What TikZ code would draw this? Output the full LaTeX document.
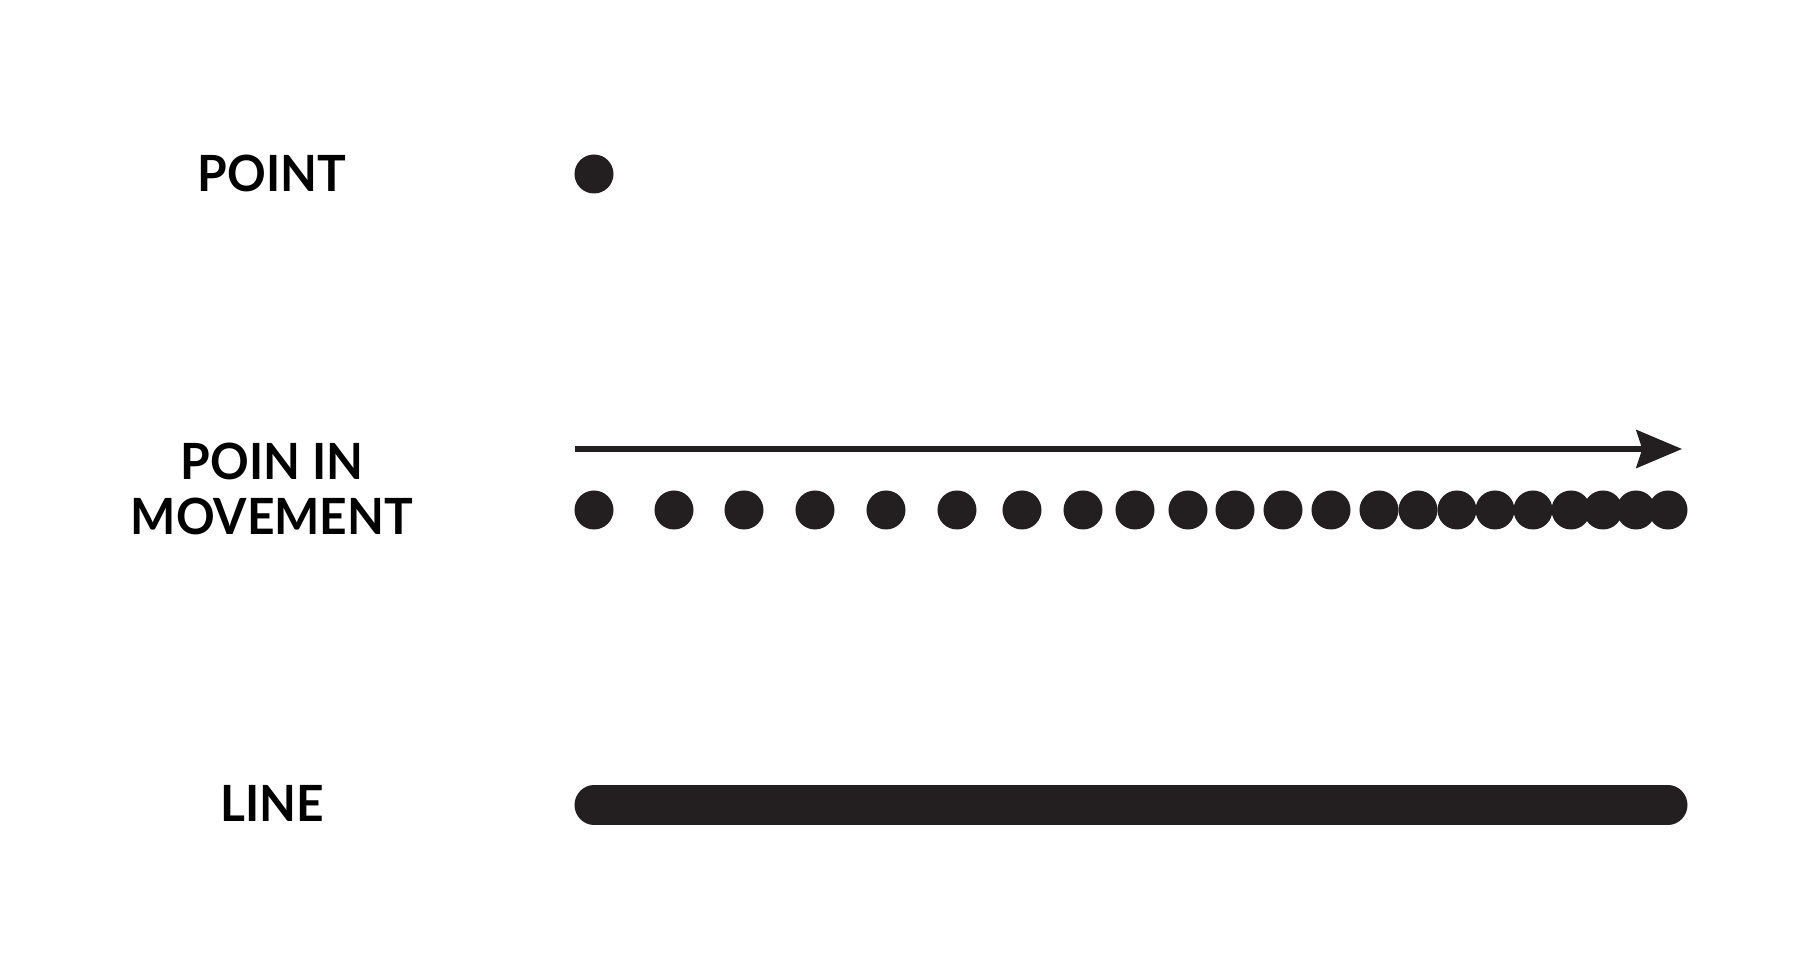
\documentclass[tikz,border=0pt]{standalone}
\usepackage{fontspec}
\setmainfont{Lato}[FakeStretch=0.96]
\usetikzlibrary{arrows.meta,positioning}
\definecolor{ink}{HTML}{231F20}

\begin{document}
\begin{tikzpicture}[x=0.01cm,y=-0.01cm,
  lbl/.style={font=\bfseries\fontsize{14.2}{15.6}\selectfont,align=center,text=black},
  dot/.style={circle,fill=ink,inner sep=0pt,minimum size=0.39cm}]
\useasboundingbox (0,0) rectangle (1820,980);

% point
\node[lbl] (pointlbl) at (272,173) {POINT};
\node[dot] (pt) at (594,174) {};

% point in movement
\node[lbl] (movelbl) at (272,489) {POIN IN\\MOVEMENT};
\coordinate (arrstart) at (575,449);
\coordinate (arrend) at (1682,449);
\draw[ink,line width=0.053cm,-{Stealth[length=0.457cm,width=0.38cm,inset=0.06cm]}] (arrstart) -- (arrend);
\foreach \i/\x in {1/594,2/674,3/744,4/815,5/886,6/957,7/1022,8/1083,9/1135,10/1188,11/1235,
                   12/1283,13/1331,14/1379,15/1418,16/1457,17/1495,18/1533,19/1571,20/1603,21/1636,22/1668}
  \node[dot] (m\i) at (\x,510) {};

% line
\node[lbl] (linelbl) at (272,803) {LINE};
\coordinate (linestart) at (594,805);
\coordinate (lineend) at (1668,805);
\draw[ink,line width=0.39cm,line cap=round] (linestart) -- (lineend);

\end{tikzpicture}
\end{document}
